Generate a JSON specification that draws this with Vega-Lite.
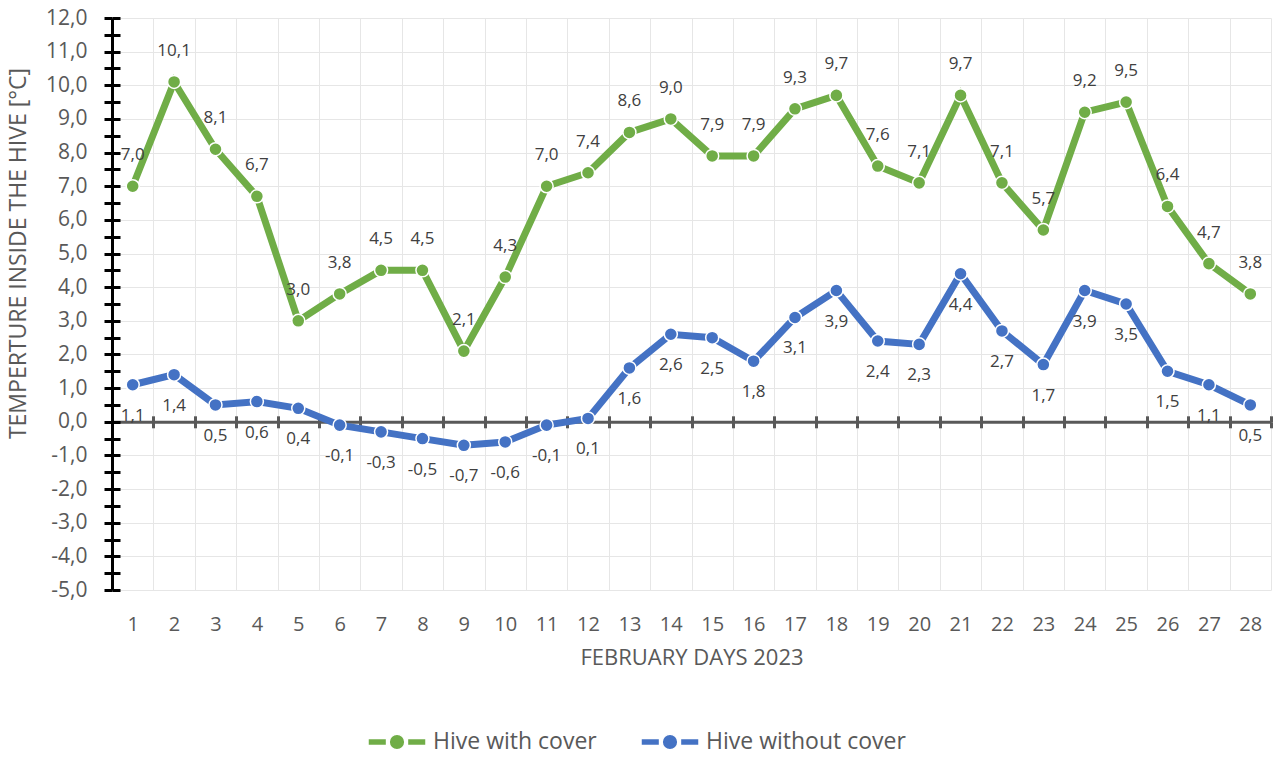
{
  "$schema": "https://vega.github.io/schema/vega-lite/v6.json",
  "width": 1159,
  "height": 572,
  "autosize": {"type": "none"},
  "padding": {"left": 112, "top": 18, "right": 9, "bottom": 174},
  "background": "white",
  "config": {
    "locale": {"number": {"decimal": ",", "thousands": ".", "grouping": [3], "currency": ["", ""], "minus": "-"}},
    "font": "Open Sans",
    "view": {"stroke": null},
    "axis": {"labelFont": "Open Sans", "titleFont": "Open Sans", "labelColor": "#595959", "titleColor": "#595959", "titleFontWeight": "normal"}
  },
  "data": {
    "values": [
      {"day": 1, "series": "Hive with cover", "temp": 7.0},
      {"day": 2, "series": "Hive with cover", "temp": 10.1},
      {"day": 3, "series": "Hive with cover", "temp": 8.1},
      {"day": 4, "series": "Hive with cover", "temp": 6.7},
      {"day": 5, "series": "Hive with cover", "temp": 3.0},
      {"day": 6, "series": "Hive with cover", "temp": 3.8},
      {"day": 7, "series": "Hive with cover", "temp": 4.5},
      {"day": 8, "series": "Hive with cover", "temp": 4.5},
      {"day": 9, "series": "Hive with cover", "temp": 2.1},
      {"day": 10, "series": "Hive with cover", "temp": 4.3},
      {"day": 11, "series": "Hive with cover", "temp": 7.0},
      {"day": 12, "series": "Hive with cover", "temp": 7.4},
      {"day": 13, "series": "Hive with cover", "temp": 8.6},
      {"day": 14, "series": "Hive with cover", "temp": 9.0},
      {"day": 15, "series": "Hive with cover", "temp": 7.9},
      {"day": 16, "series": "Hive with cover", "temp": 7.9},
      {"day": 17, "series": "Hive with cover", "temp": 9.3},
      {"day": 18, "series": "Hive with cover", "temp": 9.7},
      {"day": 19, "series": "Hive with cover", "temp": 7.6},
      {"day": 20, "series": "Hive with cover", "temp": 7.1},
      {"day": 21, "series": "Hive with cover", "temp": 9.7},
      {"day": 22, "series": "Hive with cover", "temp": 7.1},
      {"day": 23, "series": "Hive with cover", "temp": 5.7},
      {"day": 24, "series": "Hive with cover", "temp": 9.2},
      {"day": 25, "series": "Hive with cover", "temp": 9.5},
      {"day": 26, "series": "Hive with cover", "temp": 6.4},
      {"day": 27, "series": "Hive with cover", "temp": 4.7},
      {"day": 28, "series": "Hive with cover", "temp": 3.8},
      {"day": 1, "series": "Hive without cover", "temp": 1.1},
      {"day": 2, "series": "Hive without cover", "temp": 1.4},
      {"day": 3, "series": "Hive without cover", "temp": 0.5},
      {"day": 4, "series": "Hive without cover", "temp": 0.6},
      {"day": 5, "series": "Hive without cover", "temp": 0.4},
      {"day": 6, "series": "Hive without cover", "temp": -0.1},
      {"day": 7, "series": "Hive without cover", "temp": -0.3},
      {"day": 8, "series": "Hive without cover", "temp": -0.5},
      {"day": 9, "series": "Hive without cover", "temp": -0.7},
      {"day": 10, "series": "Hive without cover", "temp": -0.6},
      {"day": 11, "series": "Hive without cover", "temp": -0.1},
      {"day": 12, "series": "Hive without cover", "temp": 0.1},
      {"day": 13, "series": "Hive without cover", "temp": 1.6},
      {"day": 14, "series": "Hive without cover", "temp": 2.6},
      {"day": 15, "series": "Hive without cover", "temp": 2.5},
      {"day": 16, "series": "Hive without cover", "temp": 1.8},
      {"day": 17, "series": "Hive without cover", "temp": 3.1},
      {"day": 18, "series": "Hive without cover", "temp": 3.9},
      {"day": 19, "series": "Hive without cover", "temp": 2.4},
      {"day": 20, "series": "Hive without cover", "temp": 2.3},
      {"day": 21, "series": "Hive without cover", "temp": 4.4},
      {"day": 22, "series": "Hive without cover", "temp": 2.7},
      {"day": 23, "series": "Hive without cover", "temp": 1.7},
      {"day": 24, "series": "Hive without cover", "temp": 3.9},
      {"day": 25, "series": "Hive without cover", "temp": 3.5},
      {"day": 26, "series": "Hive without cover", "temp": 1.5},
      {"day": 27, "series": "Hive without cover", "temp": 1.1},
      {"day": 28, "series": "Hive without cover", "temp": 0.5}
    ]
  },
  "resolve": {"axis": {"x": "independent", "y": "independent"}, "legend": {"color": "independent"}},
  "layer": [
    {
      "mark": {"type": "line", "strokeWidth": 7},
      "encoding": {
        "x": {
          "field": "day", "type": "ordinal",
          "scale": {"paddingInner": 0, "paddingOuter": 0},
          "axis": {
            "orient": "bottom", "title": "FEBRUARY DAYS 2023", "labelAngle": 0,
            "labelFontSize": 20, "labelPadding": 24, "ticks": false, "domain": false,
            "grid": true, "gridColor": "#e6e6e6", "gridWidth": 1, "tickBand": "extent",
            "titleFontSize": 22, "titlePadding": 13
          }
        },
        "y": {
          "field": "temp", "type": "quantitative",
          "scale": {"domain": [-5, 12], "nice": false, "zero": false},
          "axis": {
            "orient": "left", "title": "TEMPERTURE INSIDE THE HIVE [°C]",
            "values": [-5, -4.5, -4, -3.5, -3, -2.5, -2, -1.5, -1, -0.5, 0, 0.5, 1, 1.5, 2, 2.5, 3, 3.5, 4, 4.5, 5, 5.5, 6, 6.5, 7, 7.5, 8, 8.5, 9, 9.5, 10, 10.5, 11, 11.5, 12],
            "labelExpr": "datum.value % 1 === 0 ? replace(replace(format(datum.value, '.1f'), '.', ','), '−', '-') : ''",
            "labelFontSize": 21, "labelPadding": 17,
            "tickSize": 8, "tickWidth": 3, "tickColor": "black",
            "domainColor": "black", "domainWidth": 3,
            "grid": true,
            "gridColor": {"condition": {"test": "datum.value % 1 !== 0", "value": "transparent"}, "value": "#e6e6e6"},
            "titleFontSize": 23, "titleAngle": 270, "titleX": -94, "titleY": 235,
            "titleAlign": "center", "titleBaseline": "middle"
          }
        },
        "color": {
          "field": "series", "type": "nominal",
          "scale": {"domain": ["Hive with cover", "Hive without cover"], "range": ["#70AD47", "#4472C4"]},
          "legend": null
        }
      }
    },
    {
      "mark": {"type": "point", "filled": true, "opacity": 1, "size": 170, "stroke": "white", "strokeWidth": 1.5},
      "encoding": {
        "x": {"field": "day", "type": "ordinal", "axis": null},
        "y": {"field": "temp", "type": "quantitative", "axis": null},
        "color": {
          "field": "series", "type": "nominal",
          "legend": {
            "title": null, "orient": "none", "legendX": 255, "legendY": 694,
            "direction": "horizontal",
            "symbolType": "M-1,-0.12H-0.36V0.12H-1Z M0.36,-0.12H1V0.12H0.36Z M-0.27,0A0.27,0.27,0,1,0,0.27,0A0.27,0.27,0,1,0,-0.27,0Z",
            "symbolSize": 3364, "symbolOpacity": 1,
            "labelFontSize": 23, "labelColor": "#595959", "labelFont": "Open Sans",
            "labelOffset": 6, "columnPadding": 41, "labelLimit": 400
          }
        }
      }
    },
    {
      "transform": [{"filter": "datum.series === 'Hive with cover'"}],
      "mark": {"type": "text", "dy": -31, "fontSize": 17, "color": "#404040", "font": "Open Sans"},
      "encoding": {
        "x": {
          "field": "day", "type": "ordinal",
          "axis": {
            "orient": "bottom", "offset": -168.2, "title": null, "labels": false, "grid": false,
            "domain": true, "domainColor": "#595959", "domainWidth": 3,
            "ticks": true, "tickBand": "extent", "tickSize": 6, "tickWidth": 3, "tickColor": "#595959"
          }
        },
        "y": {
          "field": "temp", "type": "quantitative",
          "axis": {
            "orient": "right", "offset": -1159, "title": null, "labels": false, "grid": false, "domain": false,
            "values": [-5, -4.5, -4, -3.5, -3, -2.5, -2, -1.5, -1, -0.5, 0, 0.5, 1, 1.5, 2, 2.5, 3, 3.5, 4, 4.5, 5, 5.5, 6, 6.5, 7, 7.5, 8, 8.5, 9, 9.5, 10, 10.5, 11, 11.5, 12],
            "tickSize": 8, "tickWidth": 3, "tickColor": "black"
          }
        },
        "text": {"field": "temp", "type": "quantitative", "format": ".1f"}
      }
    },
    {
      "transform": [{"filter": "datum.series === 'Hive without cover'"}],
      "mark": {"type": "text", "dy": 31, "fontSize": 17, "color": "#404040", "font": "Open Sans"},
      "encoding": {
        "x": {
          "field": "day", "type": "ordinal",
          "axis": {
            "orient": "top", "offset": -403.8, "title": null, "labels": false, "grid": false,
            "domain": false, "ticks": true, "tickBand": "extent", "tickSize": 6, "tickWidth": 3, "tickColor": "#595959"
          }
        },
        "y": {"field": "temp", "type": "quantitative", "axis": null},
        "text": {"field": "temp", "type": "quantitative", "format": ".1f"}
      }
    }
  ]
}
